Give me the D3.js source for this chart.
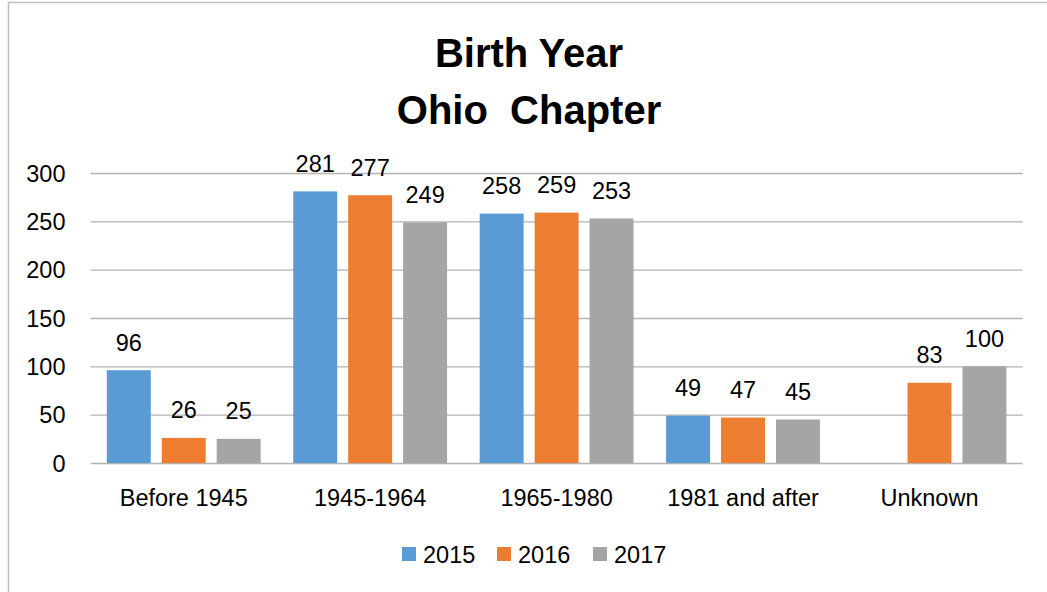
<!DOCTYPE html>
<html><head><meta charset="utf-8">
<script src="https://cdn.jsdelivr.net/npm/d3@7"></script>
<style>body{margin:0;background:#fff}svg{display:block;font-family:"Liberation Sans",Arial,sans-serif}</style>
</head><body><svg id="c" width="1047" height="592"></svg>
<script>
const categories = ["Before 1945","1945-1964","1965-1980","1981 and after","Unknown"];
const seriesNames = ["2015","2016","2017"];
const values2015 = [96,281,258,49,null];
const values2016 = [26,277,259,47,83];
const values2017 = [25,249,253,45,100];
const yTicks = [0,50,100,150,200,250,300];
const titleLines = ["Birth Year","Ohio  Chapter"];
const colors = ["#5b9bd5","#ed7d31","#a5a5a5"];

const seriesValues = [values2015, values2016, values2017];
const svg = d3.select("#c");
svg.append("rect").attr("x",8.5).attr("y",2.5).attr("width",1100).attr("height",700)
  .attr("fill","#fff").attr("stroke","#bfbfbf").attr("stroke-width",1.5);

const L=90.5, R=1022.7, T=173, B=463;
const FS = 23.5;
const y = d3.scaleLinear().domain([0,300]).range([B,T]);
const x0 = d3.scaleBand().domain(categories).range([L,R]).padding(0);
const inner = 16.3;
const x1 = d3.scaleBand().domain(seriesNames).range([inner, x0.bandwidth()-inner]).paddingInner(0.2).paddingOuter(0);

// gridlines
const yAxis = d3.axisLeft(y).tickValues(yTicks).tickSize(-(R-L)).tickPadding(25);
const ga = svg.append("g").attr("transform",`translate(${L},0)`).call(yAxis);
ga.select(".domain").remove();
ga.selectAll(".tick line").attr("stroke","#b3b3b3").attr("stroke-width",1.4);
ga.selectAll(".tick text").attr("font-size",FS).attr("fill","#000").attr("dy","0.35em").attr("font-family","Liberation Sans, Arial, sans-serif");

// x axis labels
const xa = svg.append("g").attr("transform",`translate(0,${B})`).call(d3.axisBottom(x0).tickSize(0).tickPadding(26));
xa.select(".domain").remove();
xa.selectAll(".tick text").attr("font-size",FS).attr("fill","#000").attr("font-family","Liberation Sans, Arial, sans-serif");

// bars
const groups = svg.append("g").selectAll("g").data(categories).join("g")
  .attr("transform",d=>`translate(${x0(d)},0)`);
seriesNames.forEach((s,si)=>{
  groups.each(function(d,ci){
    const v = seriesValues[si][ci];
    if (v==null) return;
    const g = d3.select(this);
    g.append("rect").attr("x",x1(s)).attr("width",x1.bandwidth())
      .attr("y",y(v)).attr("height",y(0)-y(v)).attr("fill",colors[si]);
    g.append("text").attr("x",x1(s)+x1.bandwidth()/2).attr("y",y(v)-19.5)
      .attr("text-anchor","middle").attr("font-size",FS).attr("fill","#000").text(v);
  });
});

// title
svg.append("g").selectAll("text").data(titleLines).join("text")
  .attr("x",529).attr("y",(d,i)=>[67,124][i]).attr("text-anchor","middle")
  .style("white-space","pre")
  .attr("font-size",40).attr("font-weight","bold").attr("fill","#000").text(d=>d);

// legend
const legX = [402,497,593];
const lg = svg.append("g").selectAll("g").data(seriesNames).join("g")
  .attr("transform",(d,i)=>`translate(${legX[i]},547)`);
lg.append("rect").attr("width",14).attr("height",14).attr("fill",(d,i)=>colors[i]);
lg.append("text").attr("x",21).attr("y",15.5).attr("font-size",FS).attr("fill","#000").text(d=>d);
</script></body></html>
